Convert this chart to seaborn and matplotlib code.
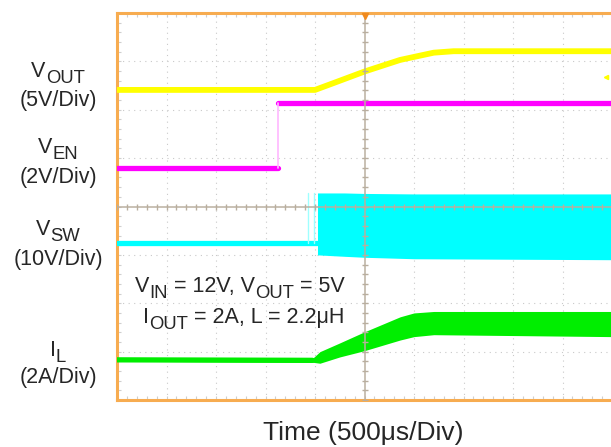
import numpy as np
import pandas as pd
import matplotlib
matplotlib.use("Agg")
import matplotlib.pyplot as plt
import seaborn as sns

# scope traces in divisions (x: 0..10 div, y: -4..4 div)
vout_t = [0.0, 4.0, 4.37, 5.0, 5.72, 6.4, 6.8, 10.0]
vout_y = [2.41, 2.41, 2.55, 2.79, 3.03, 3.18, 3.21, 3.21]

ven_t = [0.0, 3.25, 3.25, 10.0]
ven_y = [0.80, 0.80, 2.14, 2.14]
ven_seg = [0, 0, 1, 1]

vsw_low_t = [0.0, 4.05]
vsw_low_y = [-0.75, -0.75]
vsw_pulse_t = [3.86, 3.98]
vsw_band_t = [4.05, 4.6, 5.0, 6.0, 10.0]
vsw_band_top = [0.28, 0.28, 0.27, 0.26, 0.26]
vsw_band_bot = [-1.0, -1.03, -1.05, -1.08, -1.1]

il_t = [0.0, 3.95, 4.1, 4.5, 5.0, 5.72, 6.0, 6.4, 10.0]
il_top = [-3.14, -3.14, -3.0, -2.82, -2.59, -2.28, -2.2, -2.17, -2.17]
il_bot = [-3.20, -3.22, -3.24, -3.11, -2.98, -2.76, -2.69, -2.65, -2.69]

# channel labels: (name, subscript, scale, y of first line, y of second line) in pixels
labels = [("V", "OUT", "(5V/Div)", 69, 98),
          ("V", "EN", "(2V/Div)", 145, 175),
          ("V", "SW", "(10V/Div)", 227, 257),
          ("I", "L", "(2A/Div)", 348, 375)]

sns.set_style("white")
plt.rcParams["font.family"] = ["Liberation Sans", "DejaVu Sans"]

W, H = 611, 447
fig = plt.figure(figsize=(W / 100, H / 100), dpi=100)
ax = fig.add_axes([117 / W, 1 - 400 / H, 495 / W, 387 / H])

orange = "#F7AC50"
yellow = "#FFFF00"
magenta = "#FF00FF"
cyan = "#00FFFF"
green = "#00EE00"
cross = "#B9AE9F"

# dotted grid
for gx in range(1, 10):
    if gx != 5:
        ax.axvline(gx, color="#C9C9C9", lw=0.8, ls=(0, (1, 4)), zorder=1)
for gy in range(-3, 4):
    if gy != 0:
        ax.axhline(gy, color="#C9C9C9", lw=0.8, ls=(0, (1, 4)), zorder=1)

# traces
df_vout = pd.DataFrame({"t": vout_t, "v": vout_y})
sns.lineplot(data=df_vout, x="t", y="v", ax=ax, color=yellow, lw=4.2, zorder=3)
df_ven = pd.DataFrame({"t": ven_t, "v": ven_y, "seg": ven_seg})
sns.lineplot(data=df_ven, x="t", y="v", units="seg", estimator=None, ax=ax,
             color=magenta, lw=3.8, zorder=3)
ax.plot([3.25, 3.25], [ven_y[1], ven_y[2]], color="#FFB8FF", lw=1.2, zorder=3)

df_vsw = pd.DataFrame({"t": vsw_low_t, "v": vsw_low_y})
sns.lineplot(data=df_vsw, x="t", y="v", ax=ax, color=cyan, lw=3.8, zorder=3)
for pt in vsw_pulse_t:
    ax.plot([pt, pt], [vsw_low_y[0], vsw_band_top[0]], color="#9FFFFF", lw=1.0, zorder=3)
ax.fill_between(vsw_band_t, vsw_band_bot, vsw_band_top, color=cyan, lw=0, zorder=3)

ax.fill_between(il_t, il_bot, il_top, color=green, lw=0, zorder=3)
il_mid = [(a + b) / 2 for a, b in zip(il_top, il_bot)]
sns.lineplot(x=il_t[:2], y=il_mid[:2], ax=ax, color=green, lw=3.8, zorder=3)

# small markers (trigger arrow, yellow reference mark)
ax.plot([5], [3.93], marker="v", color="#F08A1E", ms=5, zorder=6, clip_on=False)
ax.plot([9.88], [2.68], marker="<", color=yellow, ms=3, zorder=4)

# center cross with tick marks
ax.axvline(5, color=cross, lw=1.2, zorder=5, alpha=0.9)
ax.axhline(0, color=cross, lw=1.2, zorder=5, alpha=0.9)
xt = np.arange(0, 10.01, 0.2)
yt = np.arange(-4, 4.01, 0.2)
ax.plot(xt, np.zeros_like(xt), ls="none", marker="|", ms=5, mew=1.0, color=cross, zorder=5)
ax.plot(np.full_like(yt, 5), yt, ls="none", marker="_", ms=5, mew=1.0, color=cross, zorder=5)

ax.set_xlim(0, 10)
ax.set_ylim(-4, 4)
ax.set_xticks(np.arange(0, 10.01, 0.2))
ax.set_yticks(np.arange(-4, 4.01, 0.2))
ax.tick_params(direction="in", length=3, width=0.8, color="#CFCFCF",
               labelbottom=False, labelleft=False, top=True, bottom=True,
               left=True, right=False)
for side in ["left", "top", "bottom"]:
    ax.spines[side].set_color(orange)
    ax.spines[side].set_linewidth(2.2)
ax.spines["right"].set_visible(False)
ax.set_xlabel("")
ax.set_ylabel("")

renderer = fig.canvas.get_renderer()


def rich_text(xc, yc, parts, size):
    """Centre a run of (text, is_subscript) pieces at pixel (xc, yc) from the top."""
    cap = 0.716 * size * 100 / 72
    base = (H - yc) - cap / 2
    objs = []
    total = 0
    for s, sub in parts:
        fs = size * 0.86 if sub else size
        t = fig.text(0, 0, s, fontsize=fs, transform=None, ha="left", va="baseline")
        w = t.get_window_extent(renderer).width
        objs.append((t, w, sub))
        total += w
    x = xc - total / 2
    for t, w, sub in objs:
        t.set_position((x, base - (0.42 * cap if sub else 0)))
        x += w


fs = 15.5
for name, sub, scale, y1, y2 in labels:
    rich_text(58, y1, [(name, False), (sub, True)], fs)
    rich_text(58, y2, [(scale, False)], fs)

rich_text(240, 284, [("V", False), ("IN", True), (" = 12V, V", False),
                     ("OUT", True), (" = 5V", False)], fs)
rich_text(244, 315, [("I", False), ("OUT", True), (" = 2A, L = 2.2μH", False)], fs)
rich_text(363, 431, [("Time (500μs/Div)", False)], 19)

fig.savefig("out.png", dpi=100, facecolor="white")
